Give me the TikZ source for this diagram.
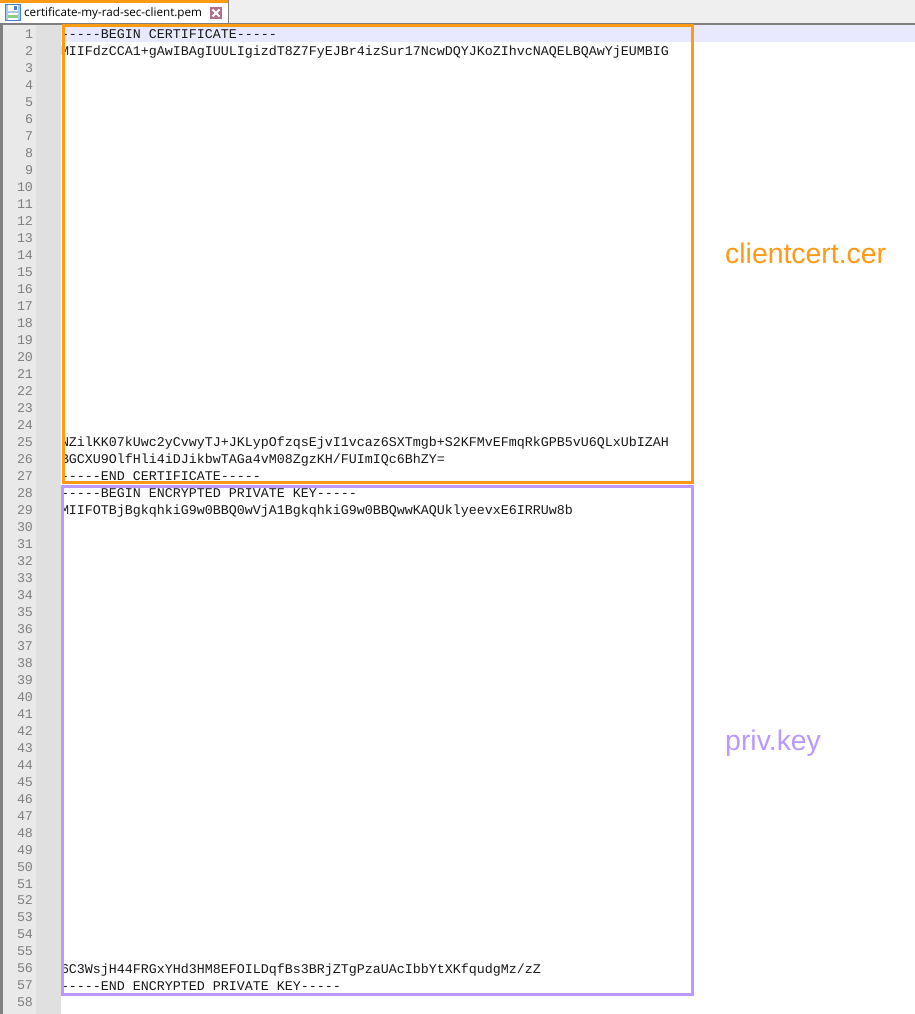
\documentclass[tikz,border=0pt]{standalone}
\usepackage{fontspec}
\setmainfont{Liberation Sans}
\newfontfamily\codefont{Liberation Mono}
\newfontfamily\tabfont{Open Sans}
\definecolor{orangebox}{HTML}{FF9A14}
\definecolor{purplebox}{HTML}{BB99FF}
\definecolor{tabbar}{HTML}{EFEFEF}
\definecolor{marginA}{HTML}{E9E9E9}
\definecolor{marginB}{HTML}{E0E0E0}
\definecolor{caret}{HTML}{E8E8FF}
\definecolor{lineno}{HTML}{808080}
\definecolor{closex}{HTML}{B07090}
\definecolor{floppy}{HTML}{4A80C8}
\definecolor{floppyfill}{HTML}{A8C8EC}
\definecolor{floppygreen}{HTML}{8CCB8C}
\tikzset{
  x=1pt,y=-1pt,
  code/.style={anchor=base west,inner sep=0pt,outer sep=0pt,font=\codefont\fontsize{13.33}{16}\selectfont,text=black!90},
  num/.style={anchor=base east,inner sep=0pt,outer sep=0pt,font=\codefont\fontsize{13.33}{16}\selectfont,text=lineno},
  biglabel/.style={anchor=base west,inner sep=0pt,font=\fontsize{28.4}{30}\selectfont},
}
\begin{document}
\begin{tikzpicture}
\useasboundingbox (0,0) rectangle (915,1014);
\fill[white] (0,0) rectangle (915,1014);
% tab bar
\fill[tabbar] (0,0) rectangle (915,23);
\fill[white] (0,3) rectangle (228,24);
\fill[orangebox] (0,0) rectangle (228,3);
\draw[gray,line width=1pt] (228.5,0) -- (228.5,24);
\draw[gray,line width=1.5pt] (0,24.2) -- (915,24.2);
% margins
\fill[marginA] (3,25) rectangle (36,1014);
\fill[marginB] (36,25) rectangle (61,1014);
\fill[gray] (0,25) rectangle (3,1014);
\fill[caret] (61,25) rectangle (915,42);
% floppy icon
\filldraw[draw=floppy,fill=floppyfill,line width=1pt] (5.5,4.5) rectangle (20.5,20.5);
\fill[white] (8,5) rectangle (18,11);
\fill[floppy] (14,6) rectangle (16.5,10);
\fill[white] (8,13) rectangle (18,20);
\fill[floppygreen] (8,15.5) rectangle (18,18);
% tab title
\node[anchor=base west,inner sep=0pt,font=\tabfont\fontsize{11.65}{14}\selectfont] (tabtitle) at (24,17) {certificate-my-rad-sec-client.pem};
% close button
\node[fill=closex,minimum size=12pt,inner sep=0pt] (closebtn) at (216,13) {};
\draw[white,line width=2pt] (212.5,9.5) -- (219.5,16.5) (219.5,9.5) -- (212.5,16.5);
% line numbers
\foreach \n in {1,...,58}{
  \pgfmathsetmacro{\yy}{39+(\n-1)*16.98}
  \node[num] (n\n) at (33,\yy) {\n};
}
% code
\node[code] (l1) at (61,39) {-----BEGIN CERTIFICATE-----};
\node[code] (l2) at (61,56) {MIIFdzCCA1+gAwIBAgIUULIgizdT8Z7FyEJBr4izSur17NcwDQYJKoZIhvcNAQELBQAwYjEUMBIG};
\node[code] (l25) at (61,446.5) {NZilKK07kUwc2yCvwyTJ+JKLypOfzqsEjvI1vcaz6SXTmgb+S2KFMvEFmqRkGPB5vU6QLxUbIZAH};
\node[code] (l26) at (61,463.5) {BGCXU9OlfHli4iDJikbwTAGa4vM08ZgzKH/FUImIQc6BhZY=};
\node[code] (l27) at (61,480.5) {-----END CERTIFICATE-----};
\node[code] (l28) at (61,497.5) {-----BEGIN ENCRYPTED PRIVATE KEY-----};
\node[code] (l29) at (61,514.5) {MIIFOTBjBgkqhkiG9w0BBQ0wVjA1BgkqhkiG9w0BBQwwKAQUklyeevxE6IRRUw8b};
\node[code] (l56) at (61,973) {6C3WsjH44FRGxYHd3HM8EFOILDqfBs3BRjZTgPzaUAcIbbYtXKfqudgMz/zZ};
\node[code] (l57) at (61,990) {-----END ENCRYPTED PRIVATE KEY-----};
% boxes
\draw[orangebox,line width=3pt] (63,25.5) rectangle (692,482);
\draw[purplebox,line width=3pt] (62,486.5) rectangle (692,994);
% labels
\node[biglabel,text=orangebox] (certlabel) at (725,263) {clientcert.cer};
\node[biglabel,text=purplebox] (keylabel) at (725,750) {priv.key};
\end{tikzpicture}
\end{document}
